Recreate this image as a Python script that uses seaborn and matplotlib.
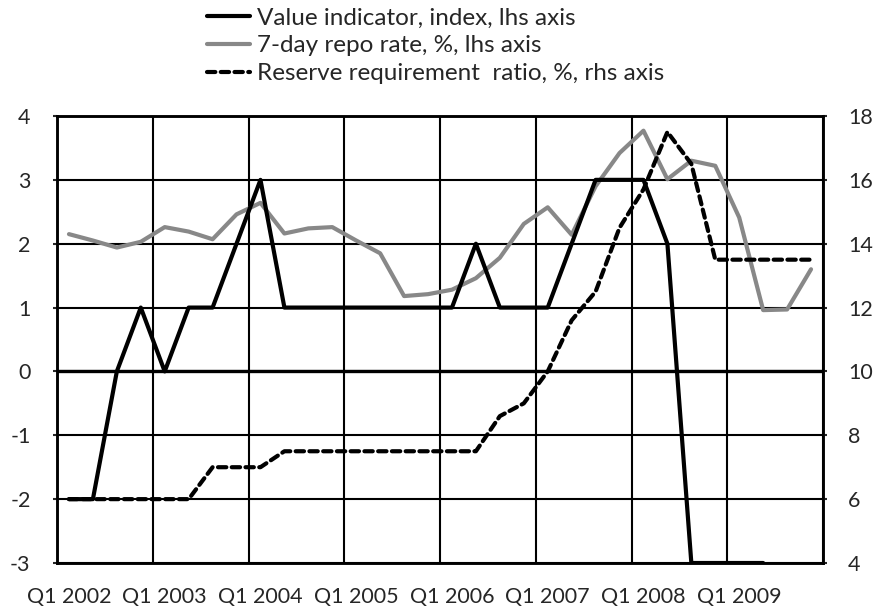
import numpy as np
import pandas as pd
import matplotlib
matplotlib.use("Agg")
import matplotlib.pyplot as plt
import seaborn as sns

# quarterly data, Q1 2002 .. Q4 2009
quarters = [f"Q{q} {y}" for y in range(2002, 2010) for q in range(1, 5)]
value_indicator = [-2, -2, 0, 1, 0, 1, 1, 2, 3, 1, 1, 1, 1, 1, 1, 1,
                   1, 2, 1, 1, 1, 2, 3, 3, 3, 2, -3, -3, -3, -3, np.nan, np.nan]
repo_rate = [2.15, 2.05, 1.94, 2.03, 2.26, 2.19, 2.07, 2.46, 2.64, 2.16, 2.24, 2.26, 2.05, 1.85, 1.18, 1.21,
             1.28, 1.46, 1.78, 2.31, 2.57, 2.14, 2.90, 3.42, 3.77, 3.01, 3.30, 3.22, 2.41, 0.96, 0.97, 1.60]
rrr = [6, 6, 6, 6, 6, 6, 7, 7, 7, 7.5, 7.5, 7.5, 7.5, 7.5, 7.5, 7.5,
       7.5, 7.5, 8.6, 9.0, 10.0, 11.6, 12.5, 14.5, 15.7, 17.5, 16.5, 13.5, 13.5, 13.5, 13.5, 13.5]

df = pd.DataFrame({"quarter": quarters, "pos": range(len(quarters)),
                   "value": value_indicator, "repo": repo_rate, "rrr": rrr})

sns.set_style("white")
plt.rcParams['font.family'] = ['Lato', 'DejaVu Sans']
plt.rcParams['axes.unicode_minus'] = False

fig = plt.figure(figsize=(8.82, 6.12), dpi=100)
ax = fig.add_axes([57/882, 1 - 563/612, (823 - 57)/882, (563 - 116)/612])
ax2 = ax.twinx()

sns.lineplot(data=df, x="pos", y="value", ax=ax, color="black", lw=3,
             label="Value indicator, index, lhs axis", legend=False, zorder=4)
sns.lineplot(data=df, x="pos", y="repo", ax=ax, color="#888888", lw=3,
             label="7-day repo rate, %, lhs axis", legend=False, zorder=3)
sns.lineplot(data=df, x="pos", y="rrr", ax=ax2, color="black", lw=3,
             linestyle=(0, (2.0, 1.3)), dash_capstyle="round",
             label="Reserve requirement  ratio, %, rhs axis", legend=False, zorder=3)

ax.set_xlim(-0.5, len(quarters) - 0.5)
ax.set_ylim(-3, 4)
ax2.set_ylim(4, 18)
ax.set_yticks(range(-3, 5))
ax2.set_yticks(range(4, 19, 2))
ax.set_xticks(range(0, len(quarters), 4))
ax.set_xticklabels(quarters[::4])
ax.set_xticks(np.arange(-0.5, len(quarters), 4), minor=True)
ax.set_xlabel("")
ax.set_ylabel("")
ax2.set_ylabel("")

ax.grid(False)
ax2.grid(False)
ax.grid(axis="x", which="minor", color="black", lw=1.5)
ax.grid(axis="y", which="major", color="black", lw=1.5)
ax.axhline(0, color="black", lw=2.4, zorder=2)

ax.tick_params(axis="x", which="both", length=0, pad=17, labelsize=15.5)
ax.tick_params(axis="y", length=3, width=1.5, pad=16, labelsize=15.5)
ax2.tick_params(axis="y", length=3, width=1.5, pad=15, labelsize=15.5)
for a in (ax, ax2):
    for s in a.spines.values():
        s.set_color("black")
        s.set_linewidth(1.8)

h1, l1 = ax.get_legend_handles_labels()
h2, l2 = ax2.get_legend_handles_labels()
fig.legend(h1 + h2, l1 + l2, loc="upper left", bbox_to_anchor=(197/882, 1.003),
           frameon=False, handlelength=1.8, handletextpad=0.25, labelspacing=0.27,
           fontsize=17.5, borderaxespad=0)

fig.savefig("out.png", dpi=100)
